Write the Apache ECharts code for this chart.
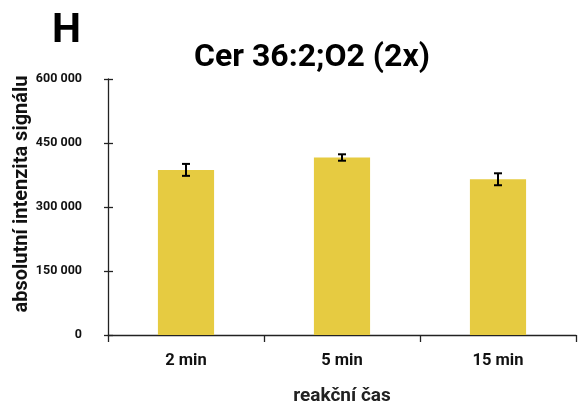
<!DOCTYPE html>
<html><head><meta charset="utf-8">
<script src="https://cdn.jsdelivr.net/npm/echarts@6/dist/echarts.min.js"></script>
<style>html,body{margin:0;padding:0;background:#fff}#c{width:587px;height:405px}</style>
</head><body><div id="c"></div>
<script>
const categories = ['2 min', '5 min', '15 min'];
const values = [387000, 416000, 365000];
const errors = [14000, 7500, 14000];
const yTicks = [0, 150000, 300000, 450000, 600000];

const FONT = 'Roboto';
const chart = echarts.init(document.getElementById('c'), null, {renderer: 'canvas'});
function fmt(v){ return String(v).replace(/\B(?=(\d{3})+(?!\d))/g, ' '); }
const axisColor = '#222';
chart.setOption({
  animation: false,
  title: [
    {text: 'H', left: 47, top: 6, textStyle: {fontFamily: FONT, fontWeight: 'bold', fontSize: 41, color: '#000'}},
    {text: 'Cer 36:2;O2 (2x)', left: 307, top: 37, textAlign: 'center', textStyle: {fontFamily: FONT, fontWeight: 'bold', fontSize: 32, color: '#000'}}
  ],
  graphic: [{
    type: 'text', x: 22, y: 194, rotation: Math.PI / 2,
    style: {text: 'absolutní intenzita signálu', fontFamily: FONT, fontWeight: 'bold', fontSize: 20, fill: '#111',
      align: 'center', verticalAlign: 'middle'}
  }],
  grid: {left: 108, right: 11, top: 79, bottom: 70, containLabel: false, outerBoundsMode: 'none'},
  xAxis: {
    type: 'category', data: categories,
    name: 'reakční čas', nameLocation: 'middle', nameGap: 52,
    nameTextStyle: {fontFamily: FONT, fontWeight: 'bold', fontSize: 19, color: '#222'},
    axisLine: {lineStyle: {color: axisColor, width: 1.3}},
    axisTick: {show: true, length: 7, lineStyle: {color: axisColor, width: 1.3}},
    axisLabel: {fontFamily: FONT, fontWeight: 'bold', fontSize: 16.5, color: '#111', margin: 17}
  },
  yAxis: [{
    type: 'value', min: 0, max: 600000, interval: 150000,
    axisLine: {show: true, lineStyle: {color: axisColor, width: 1.3}},
    axisTick: {show: true, length: 4, lineStyle: {color: axisColor, width: 1.3}},
    splitLine: {show: false},
    axisLabel: {fontFamily: FONT, fontWeight: 'bold', fontSize: 12.5, color: '#111', margin: 26,
      formatter: v => yTicks.includes(v) ? fmt(v) : ''}
  }, {
    type: 'value', min: 0, max: 600000, interval: 150000, position: 'left',
    axisLine: {show: false}, splitLine: {show: false}, axisLabel: {show: false},
    axisTick: {show: true, inside: true, length: 5, lineStyle: {color: axisColor, width: 1.3}}
  }],
  series: [{
    type: 'bar', data: values, barWidth: '36%',
    itemStyle: {color: '#E6CB41'}
  }, {
    type: 'custom',
    data: values.map((v, i) => [i, v - errors[i], v + errors[i]]),
    renderItem: function(params, api){
      const x = api.value(0);
      const lo = api.coord([x, api.value(1)]);
      const hi = api.coord([x, api.value(2)]);
      const w = 4;
      const st = {stroke: '#000', lineWidth: 2};
      return {type: 'group', children: [
        {type: 'line', shape: {x1: lo[0], y1: lo[1], x2: hi[0], y2: hi[1]}, style: st},
        {type: 'line', shape: {x1: lo[0]-w, y1: lo[1], x2: lo[0]+w, y2: lo[1]}, style: st},
        {type: 'line', shape: {x1: hi[0]-w, y1: hi[1], x2: hi[0]+w, y2: hi[1]}, style: st}
      ]};
    },
    z: 10
  }]
});
</script></body></html>
